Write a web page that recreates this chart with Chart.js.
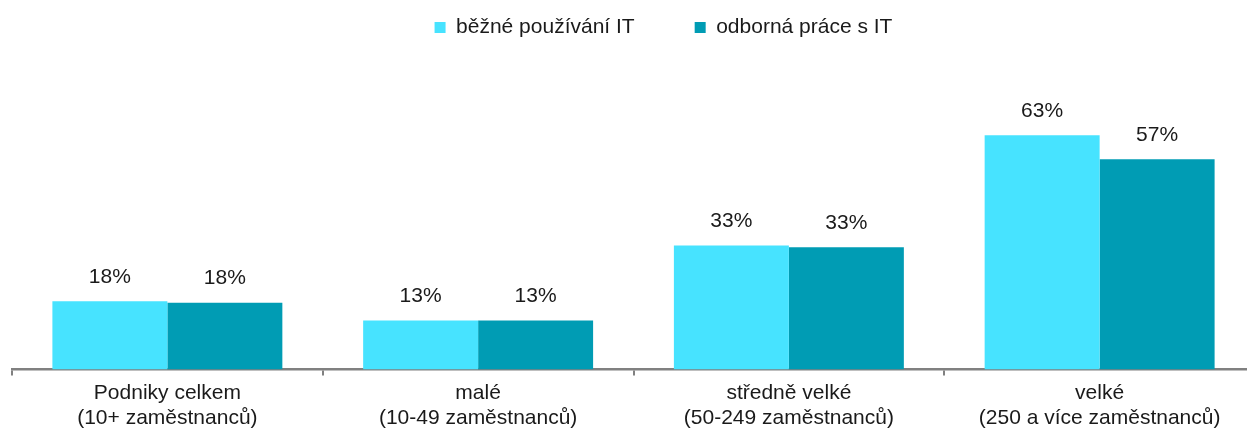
<!DOCTYPE html>
<html>
<head>
<meta charset="utf-8">
<script src="https://cdn.jsdelivr.net/npm/chart.js@4/dist/chart.umd.min.js"></script>
<style>
  html, body { margin: 0; padding: 0; background: #fff; overflow: hidden; }
</style>
</head>
<body>
<canvas id="itChart" width="1257" height="430"></canvas>
<script>
// categories (two-line labels)
const categories = [
    ['Podniky celkem', '(10+ zaměstnanců)'],
    ['malé', '(10-49 zaměstnanců)'],
    ['středně velké', '(50-249 zaměstnanců)'],
    ['velké', '(250 a více zaměstnanců)']
];
const seriesNames = ['běžné používání IT', 'odborná práce s IT'];
const bezneValues = [18.4, 13.2, 33.4, 63.0];
const odbornaValues = [18.0, 13.2, 32.9, 56.6];

const FONT = 'Liberation Sans, Arial, sans-serif';

// draws the % labels above each bar
const valueLabels = {
    id: 'valueLabels',
    afterDatasetsDraw(chart) {
        const ctx = chart.ctx;
        ctx.save();
        ctx.font = '21px ' + FONT;
        ctx.fillStyle = '#1a1a1a';
        ctx.textAlign = 'center';
        ctx.textBaseline = 'middle';
        chart.data.datasets.forEach((ds, i) => {
            chart.getDatasetMeta(i).data.forEach((bar, j) => {
                ctx.fillText(Math.round(ds.data[j]) + '%', bar.x, bar.y - 24);
            });
        });
        ctx.restore();
    }
};

// legend in the original sits a bit right of centre
const legendShift = {
    id: 'legendShift',
    afterLayout(chart) {
        chart.legend.left += 30;
        chart.legend.right += 30;
    }
};

new Chart(document.getElementById('itChart'), {
    type: 'bar',
    data: {
        labels: categories,
        datasets: [
            { label: seriesNames[0], data: bezneValues, backgroundColor: '#47e3ff' },
            { label: seriesNames[1], data: odbornaValues, backgroundColor: '#009cb4' }
        ]
    },
    options: {
        responsive: false,
        animation: false,
        layout: { padding: { left: 12, right: 2, top: -43, bottom: -6 } },
        datasets: { bar: { categoryPercentage: 0.74, barPercentage: 1.0 } },
        plugins: {
            legend: {
                position: 'top',
                labels: {
                    boxWidth: 11,
                    boxHeight: 11,
                    padding: 60,
                    color: '#1a1a1a',
                    font: { family: FONT, size: 21 }
                }
            },
            tooltip: { enabled: false }
        },
        scales: {
            x: {
                grid: {
                    offset: true,
                    drawOnChartArea: false,
                    drawTicks: true,
                    tickLength: 6,
                    color: '#808080',
                    lineWidth: 2
                },
                border: { color: '#808080', width: 2.5 },
                ticks: {
                    color: '#1a1a1a',
                    padding: 5,
                    font: { family: FONT, size: 21 },
                    maxRotation: 0
                }
            },
            y: {
                display: false,
                min: 0,
                max: 86.5
            }
        }
    },
    plugins: [valueLabels, legendShift]
});
</script>
</body>
</html>
